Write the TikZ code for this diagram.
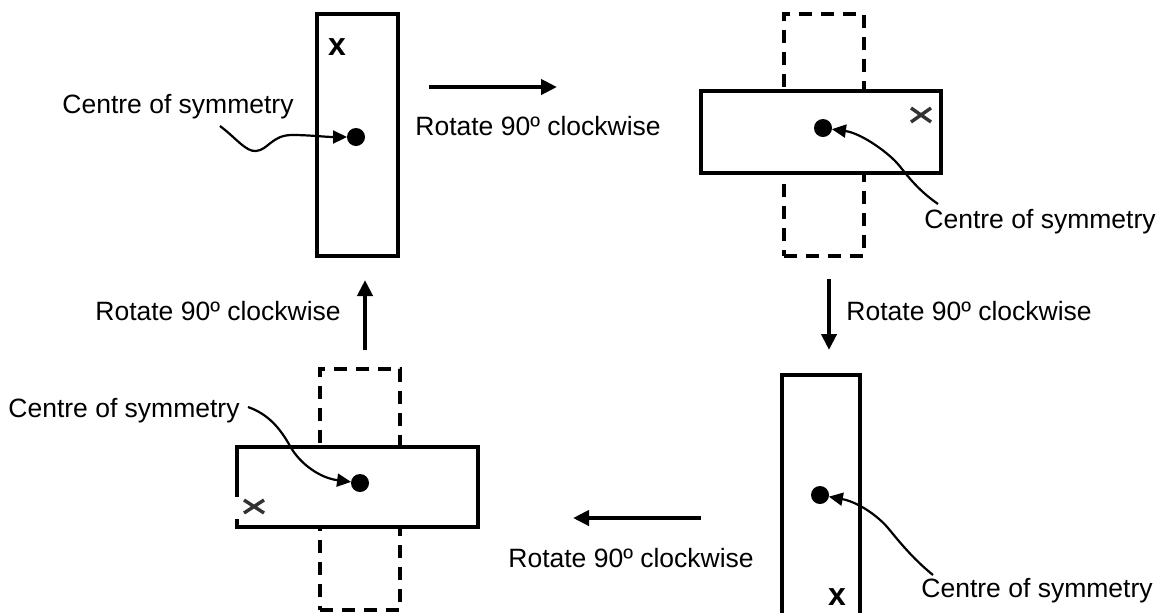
\documentclass[tikz,border=0pt]{standalone}
\usepackage{fontspec}
\setmainfont{Liberation Sans}
\usetikzlibrary{arrows.meta}
\begin{document}
\begin{tikzpicture}[x=0.5pt,y=-0.5pt,
  solidbox/.style={draw, line width=1.6pt, inner sep=0, outer sep=0},
  dashbox/.style={draw, line width=1.6pt, dash pattern=on 6.5pt off 4.5pt, inner sep=0, outer sep=0},
  cdot/.style={circle, fill, inner sep=0, outer sep=0, minimum size=9pt},
  lbl/.style={anchor=base west, inner sep=0, font=\fontsize{13.25}{16}\selectfont},
  xlbl/.style={inner sep=0, font=\fontsize{16}{18}\selectfont\bfseries},
  bigarrow/.style={line width=2.2pt, -{Triangle[length=8pt,width=7.5pt]}},
  curvearrow/.style={line width=1.1pt, -{Triangle[length=7pt,width=6.5pt]}},
  xmark/.style={draw=black!80, line width=1.7pt}]
\useasboundingbox (0,0) rectangle (1160,612);

% top-left
\node[solidbox, minimum width=40.5pt, minimum height=121pt] (r1) at (357.5,135) {};
\node[xlbl] (x1) at (337,47) {x};
\node[cdot] (d1) at (356,137) {};
\node[lbl] (t1) at (62,113) {Centre of symmetry};
\coordinate (c1) at (220,126);
\draw[curvearrow] (c1) .. controls (236,138) and (246,152) .. (256,151)
  .. controls (268,150) and (272,135) .. (292,135)
  .. controls (310,135) and (325,137) .. (d1);

% top arrow
\coordinate (a1s) at (429,87);
\coordinate (a1e) at (557,87);
\draw[bigarrow] (a1s) -- (a1e);
\node[lbl] (t2) at (415,135) {Rotate 90º clockwise};

% top-right
\node[dashbox, minimum width=40pt, minimum height=121pt] (q2) at (824,135) {};
\node[solidbox, fill=white, minimum width=120pt, minimum height=41pt] (r2) at (821,132) {};
\draw[xmark] (911,108) -- (931,122) (911,122) -- (931,108);
\node[cdot] (d2) at (823,128) {};
\node[lbl] (t3) at (924,228) {Centre of symmetry};
\coordinate (c2) at (938,204);
\draw[curvearrow] (c2) .. controls (915,188) and (905,172) .. (897,163)
  .. controls (885,150) and (860,133) .. (d2);

% right arrow down
\coordinate (a2s) at (829,279);
\coordinate (a2e) at (829,350);
\draw[bigarrow] (a2s) -- (a2e);
\node[lbl] (t4) at (846,320) {Rotate 90º clockwise};

% bottom-right
\node[solidbox, minimum width=39pt, minimum height=121pt] (r3) at (821,496) {};
\node[xlbl] (x3) at (837,597) {x};
\node[cdot] (d3) at (820,495) {};
\node[lbl] (t5) at (921,597) {Centre of symmetry};
\coordinate (c3) at (933,575);
\draw[curvearrow] (c3) .. controls (912,558) and (898,540) .. (888,528)
  .. controls (878,516) and (858,502) .. (d3);

% bottom arrow left
\coordinate (a3s) at (701,518);
\coordinate (a3e) at (573,518);
\draw[bigarrow] (a3s) -- (a3e);
\node[lbl] (t6) at (508,567) {Rotate 90º clockwise};

% bottom-left
\node[dashbox, minimum width=40pt, minimum height=120.5pt] (q4) at (360,489.5) {};
\node[solidbox, fill=white, minimum width=120.5pt, minimum height=40pt] (r4) at (357.5,487) {};
\fill[white] (234.5,497) rectangle (240,519);
\draw[xmark] (244,500) -- (264,513) (244,513) -- (264,500);
\node[cdot] (d4) at (360,483) {};
\node[lbl] (t8) at (8,417) {Centre of symmetry};
\coordinate (c4) at (248,407);
\draw[curvearrow] (c4) .. controls (268,414) and (280,428) .. (290,446)
  .. controls (300,464) and (320,478) .. (d4);

% left arrow up
\coordinate (a4s) at (365,350);
\coordinate (a4e) at (365,280);
\draw[bigarrow] (a4s) -- (a4e);
\node[lbl] (t7) at (95,320) {Rotate 90º clockwise};
\end{tikzpicture}
\end{document}
